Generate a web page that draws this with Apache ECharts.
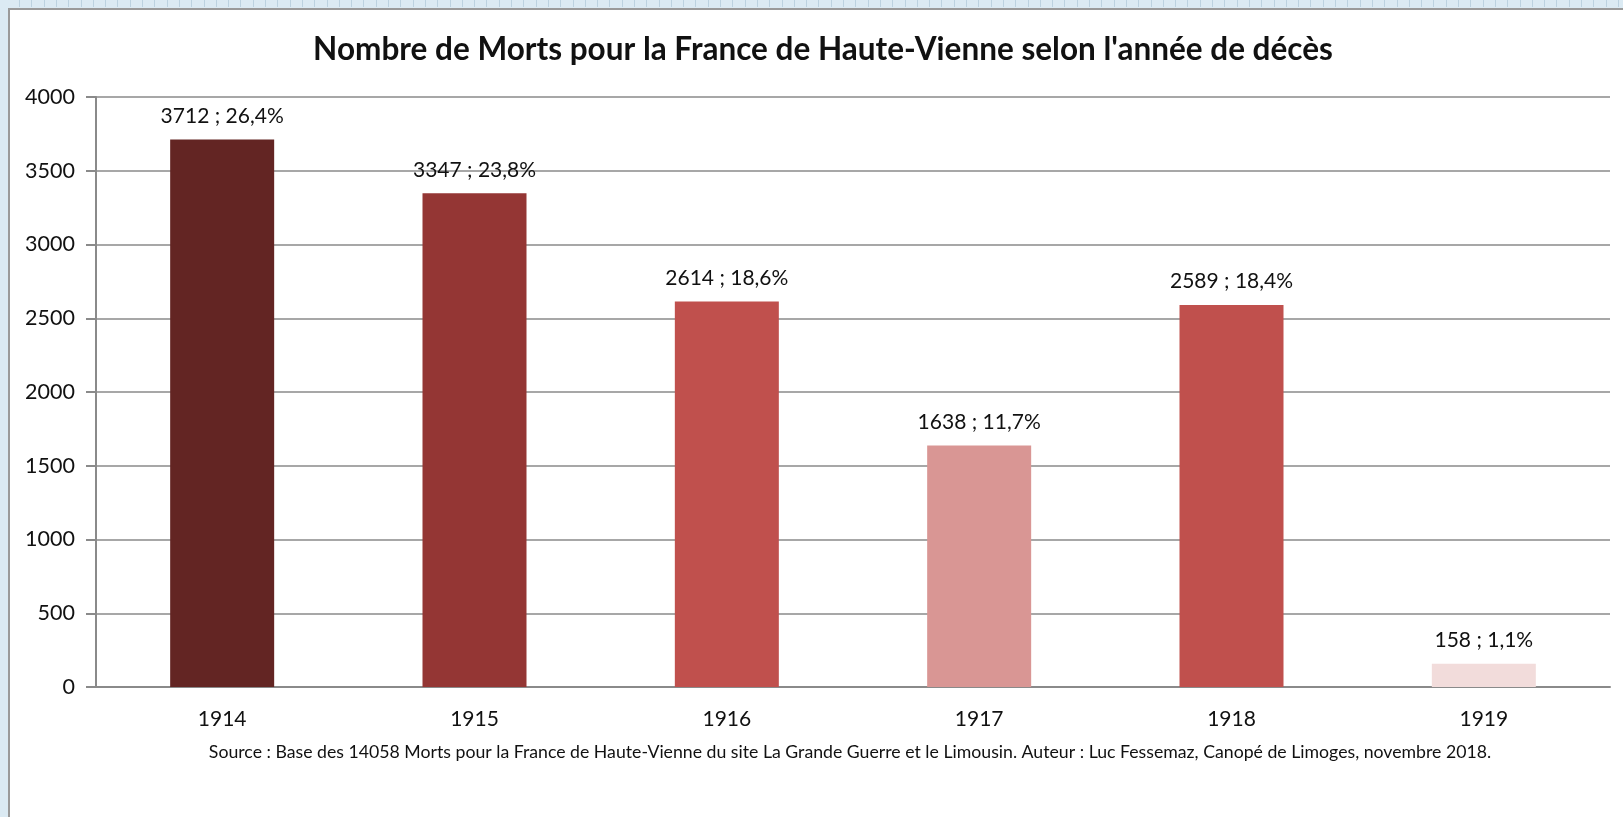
<!DOCTYPE html>
<html>
<head>
<meta charset="utf-8">
<script src="https://cdn.jsdelivr.net/npm/echarts@6/dist/echarts.min.js"></script>
<style>
  html, body { margin: 0; padding: 0; background: #dbeaf3; }
  #chart { width: 1623px; height: 817px; }
</style>
</head>
<body>
<div id="chart"></div>
<script>
// years and number of deaths per year
var years = ['1914', '1915', '1916', '1917', '1918', '1919'];
var deaths = [3712, 3347, 2614, 1638, 2589, 158];
var shares = ['26,4%', '23,8%', '18,6%', '11,7%', '18,4%', '1,1%'];
var barColors = ['#632523', '#943634', '#c0504d', '#d99694', '#c0504d', '#f2dcdb'];
var yTicks = [0, 500, 1000, 1500, 2000, 2500, 3000, 3500, 4000];

var font = 'Lato, "Open Sans", sans-serif';

// spreadsheet frame behind the chart
var deco = [
  { type: 'rect', shape: { x: 0, y: 0, width: 1623, height: 817 }, style: { fill: '#dbeaf3' }, silent: true, z: -10 },
  { type: 'rect', shape: { x: 9, y: 9, width: 1640, height: 840 }, style: { fill: '#ffffff', stroke: '#9a9a9a', lineWidth: 2 }, silent: true, z: -9 }
];
for (var x = 19; x < 1623; x += 12.3) {
  deco.push({ type: 'line', shape: { x1: Math.round(x) + 0.5, y1: 0, x2: Math.round(x) + 0.5, y2: 7 }, style: { stroke: '#bcd2e0', lineWidth: 1 }, silent: true, z: -9 });
}

var myChart = echarts.init(document.getElementById('chart'), null, { renderer: 'canvas' });

var option = {
  animation: false,
  backgroundColor: 'transparent',
  textStyle: { fontFamily: font },
  title: {
    text: "Nombre de Morts pour la France de Haute-Vienne selon l'année de décès",
    left: 818,
    textAlign: 'center',
    top: 29,
    textStyle: { fontFamily: font, fontSize: 31.5, fontWeight: 'bold', color: '#111' }
  },
  graphic: deco.concat([{
    type: 'text',
    x: 850,
    y: 743,
    style: {
      text: 'Source : Base des 14058 Morts pour la France de Haute-Vienne du site La Grande Guerre et le Limousin. Auteur : Luc Fessemaz, Canopé de Limoges, novembre 2018.',
      font: '17.7px ' + font,
      fill: '#111',
      textAlign: 'center',
      textVerticalAlign: 'top'
    }
  }]),
  grid: { left: 96, right: 13, top: 97, bottom: 130 },
  xAxis: {
    type: 'category',
    data: years,
    axisLine: { lineStyle: { color: '#8a8a8a', width: 2 } },
    axisTick: { length: 8, lineStyle: { color: '#8a8a8a', width: 2 } },
    axisLabel: { fontSize: 21, color: '#111', margin: 22, fontFamily: font }
  },
  yAxis: {
    type: 'value',
    min: yTicks[0],
    max: yTicks[yTicks.length - 1],
    interval: 500,
    axisLine: { show: true, lineStyle: { color: '#8a8a8a', width: 2 } },
    axisTick: { show: true, length: 10, lineStyle: { color: '#8a8a8a', width: 2 } },
    axisLabel: { fontSize: 21.5, color: '#111', margin: 21, fontFamily: font, formatter: function (v) { return String(v); } },
    splitLine: { lineStyle: { color: '#8a8a8a', width: 1.5 } }
  },
  series: [{
    type: 'bar',
    data: deaths.map(function (v, i) {
      return { value: v, itemStyle: { color: barColors[i] } };
    }),
    barWidth: 104,
    label: {
      show: true,
      position: 'top',
      distance: 13,
      fontSize: 21,
      color: '#111',
      fontFamily: font,
      formatter: function (p) { return p.value + ' ; ' + shares[p.dataIndex]; }
    }
  }]
};

myChart.setOption(option);
</script>
</body>
</html>
